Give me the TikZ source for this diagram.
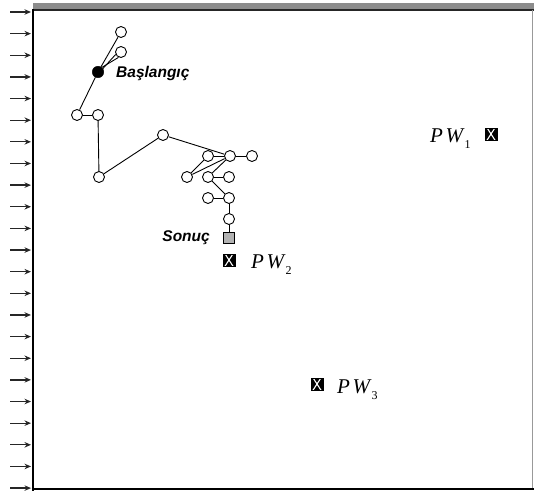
\documentclass[tikz,border=0pt]{standalone}
\usepackage{fontspec}
\setmainfont{Liberation Serif}
\newfontfamily\labfont{Liberation Sans}
\usetikzlibrary{arrows.meta}
\begin{document}
\begin{tikzpicture}[x=1pt,y=-1pt,
  state/.style={circle,draw,line width=0.9pt,fill=white,minimum size=11pt,inner sep=0pt},
  startst/.style={circle,draw,fill=black,minimum size=11.5pt,inner sep=0pt},
  goal/.style={draw,line width=0.8pt,fill=black!30,minimum size=10.5pt,inner sep=0pt},
  pwbox/.style={draw,line width=0.8pt,fill=black,minimum size=12pt,inner sep=0pt,
    path picture={\draw[white,line width=1.1pt]
      ([shift={(1.3pt,-1.3pt)}]path picture bounding box.south west) -- ([shift={(-1.3pt,1.3pt)}]path picture bounding box.north east)
      ([shift={(1.3pt,1.3pt)}]path picture bounding box.north west) -- ([shift={(-1.3pt,-1.3pt)}]path picture bounding box.south east);}},
  link/.style={line width=0.9pt},
  flow/.style={-{Stealth[length=6.5pt,width=5.5pt]},line width=1.3pt,black!85},
  lbl/.style={font=\labfont\bfseries\itshape\fontsize{15.5}{15.5}\selectfont,inner sep=0pt},
  pwl/.style={font=\itshape\fontsize{21}{21}\selectfont,inner sep=0pt}]
\useasboundingbox (0,0) rectangle (534,492);
% frame
\fill[black!45] (33,3) rectangle (534,9.5);
\draw[black!85,line width=1.5pt] (33,10) -- (534,10);
\draw[black!40,line width=0.8pt] (532,10) -- (532,488);
\draw[line width=2.6pt] (33,9) -- (33,490.5);
\draw[line width=2.6pt] (31.7,489) -- (534,489);
% inflow arrows
\foreach \i in {0,...,22}{
  \coordinate (a\i) at (10,{12+\i*21.64});
  \coordinate (b\i) at (31,{12+\i*21.64});
  \draw[flow] (a\i) -- (b\i);
}
% states
\node[state] (c1) at (121,32) {};
\node[state] (c2) at (121,52) {};
\node[startst] (s) at (98,72) {};
\node[state] (c3) at (77,115) {};
\node[state] (c4) at (98,115) {};
\node[state] (c5) at (99,177) {};
\node[state] (c6) at (163,135) {};
\node[state] (c7) at (208,156) {};
\node[state] (c8) at (230,156) {};
\node[state] (c9) at (252,156) {};
\node[state] (c10) at (187,177) {};
\node[state] (c11) at (208,177) {};
\node[state] (c12) at (229,177) {};
\node[state] (c13) at (208,198) {};
\node[state] (c14) at (229,198) {};
\node[state] (c15) at (229,219) {};
\node[goal] (g) at (229,238) {};
% connectors
\draw[link] (c1) -- (s);
\draw[link] (s.50) -- (c2.245);
\draw[link] (s.35) -- (c2.205);
\draw[link] (s) -- (c3);
\draw[link] (c3) -- (c4);
\draw[link] (c4) -- (c5);
\draw[link] (c5) -- (c6);
\draw[link] (c6) -- (c8);
\draw[link] (c7) -- (c8);
\draw[link] (c8) -- (c9);
\draw[link] (c10) -- (c7);
\draw[link] (c10) -- (c8);
\draw[link] (c11) -- (c8);
\draw[link] (c11) -- (c12);
\draw[link] (c11) -- (c14);
\draw[link] (c13) -- (c14);
\draw[link] (c14) -- (c15);
\draw[link] (c15) -- (g);
% labels
\node[lbl,anchor=west] (ls) at (116,73) {Başlangıç};
\node[lbl,anchor=east] (lg) at (210,238) {Sonuç};
% production wells
\node[pwbox] (pw1) at (491,134) {};
\node[pwbox] (pw2) at (229,260) {};
\node[pwbox] (pw3) at (317,384) {};
\node[pwl,anchor=base west] (t1) at (430,142) {P\kern2.5pt W\kern1.5pt\raisebox{-6pt}{\upshape\fontsize{12}{12}\selectfont 1}};
\node[pwl,anchor=base west] (t2) at (251,268) {P\kern2.5pt W\kern1.5pt\raisebox{-6pt}{\upshape\fontsize{12}{12}\selectfont 2}};
\node[pwl,anchor=base west] (t3) at (337,393) {P\kern2.5pt W\kern1.5pt\raisebox{-6pt}{\upshape\fontsize{12}{12}\selectfont 3}};
\end{tikzpicture}
\end{document}
